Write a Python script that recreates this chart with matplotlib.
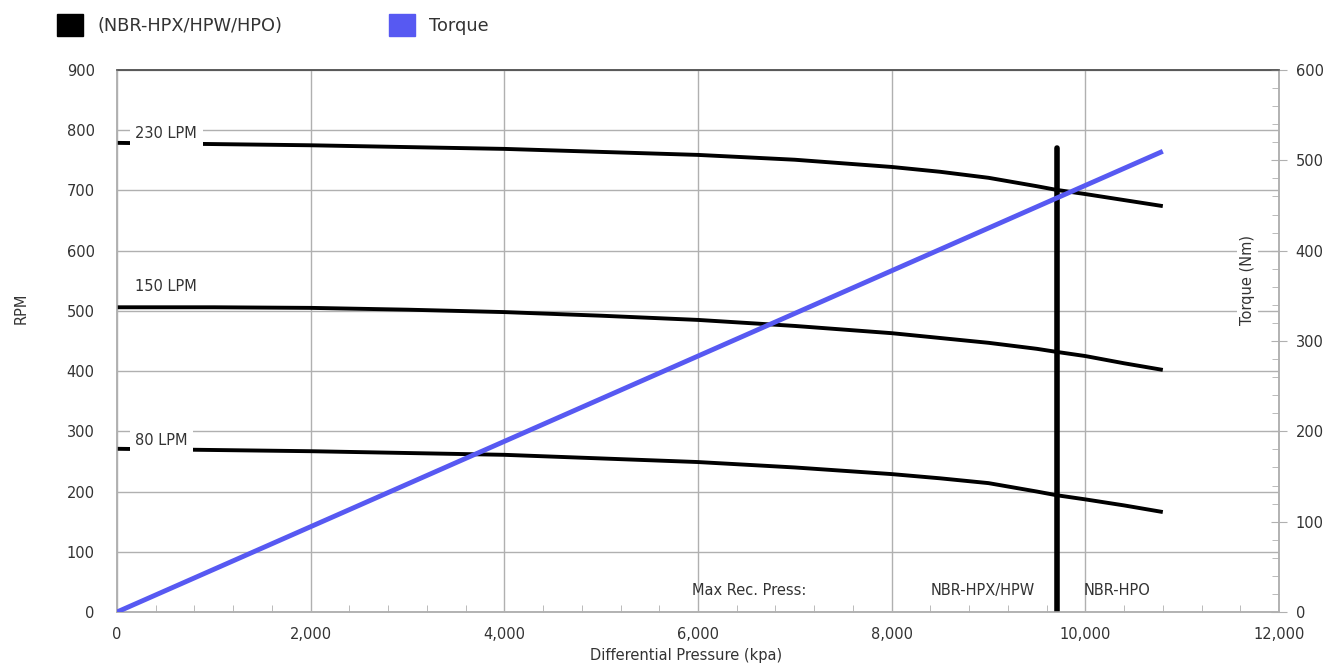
import matplotlib.pyplot as plt
from matplotlib.patches import Patch
from matplotlib.ticker import MultipleLocator, FuncFormatter

# pressure points (kpa) and rpm curves
pressure = [0, 1000, 2000, 3000, 4000, 5000, 6000, 7000, 8000, 8500, 9000, 9500, 9700, 10000, 10400, 10800]
rpm_230 = [779, 777, 775, 772, 769, 764, 759, 751, 739, 731, 721, 707, 701, 694, 684, 674]
rpm_150 = [506, 506, 505, 502, 498, 492, 485, 475, 463, 455, 447, 437, 432, 425, 413, 402]
rpm_80 = [271, 269, 267, 264, 261, 255, 249, 240, 229, 222, 214, 200, 194, 187, 177, 166]
curve_labels = ['230 LPM', '150 LPM', '80 LPM']
label_rpm = [795, 540, 284]

torque_pressure = [0, 10800]
torque_nm = [0, 510]

max_press = 9710
max_press_top = 770

blue = '#5759f2'
grid_c = '#b0b0b0'
text_c = '#333333'
fs = 10.5

plt.rcParams['font.family'] = 'DejaVu Sans'

fig = plt.figure(figsize=(13.28, 6.64), dpi=100)
ax = fig.add_axes([117/1328, 52/664, 1162/1328, 542/664])
ax2 = ax.twinx()

ax.set_xlim(0, 12000)
ax.set_ylim(0, 900)
ax2.set_ylim(0, 600)

ax.xaxis.set_major_locator(MultipleLocator(2000))
ax.xaxis.set_minor_locator(MultipleLocator(400))
ax.yaxis.set_major_locator(MultipleLocator(100))
ax2.yaxis.set_major_locator(MultipleLocator(100))
ax2.yaxis.set_minor_locator(MultipleLocator(20))
ax.xaxis.set_major_formatter(FuncFormatter(lambda v, p: f'{int(v):,}'))

ax.grid(True, which='major', color=grid_c, lw=1.0)
ax.set_axisbelow(True)

for a in [ax, ax2]:
    for sp in ['left', 'bottom', 'right']:
        a.spines[sp].set_color(grid_c)
    a.spines['top'].set_color('#555555')
    for sp in a.spines.values():
        sp.set_linewidth(1.1)

ax.tick_params(axis='y', length=0, labelsize=fs, labelcolor=text_c, pad=16)
ax.tick_params(axis='x', which='major', length=0, labelsize=fs, labelcolor=text_c, pad=11)
ax.tick_params(axis='x', which='minor', direction='in', length=5, color=grid_c)
ax2.tick_params(axis='y', which='major', direction='inout', length=12, color=grid_c,
                labelsize=fs, labelcolor=text_c, pad=6)
ax2.tick_params(axis='y', which='minor', direction='in', length=5, color=grid_c)

for rpm in [rpm_230, rpm_150, rpm_80]:
    ax.plot(pressure, rpm, color='black', lw=2.8, solid_capstyle='butt', zorder=3)

ax2.plot(torque_pressure, torque_nm, color=blue, lw=3.5, solid_capstyle='butt', zorder=4)

ax.plot([max_press, max_press], [0, max_press_top], color='black', lw=4,
        solid_capstyle='round', zorder=5)

for lab, y in zip(curve_labels, label_rpm):
    ax.text(190, y, lab, fontsize=fs, color=text_c, va='center', ha='left', zorder=6,
            bbox=dict(facecolor='white', edgecolor='none', pad=4))

ax.text(5940, 36, 'Max Rec. Press:', fontsize=fs, color=text_c, va='center', ha='left', zorder=6)
ax.text(9480, 36, 'NBR-HPX/HPW', fontsize=fs, color=text_c, va='center', ha='right', zorder=6)
ax.text(9980, 36, 'NBR-HPO', fontsize=fs, color=text_c, va='center', ha='left', zorder=6)

ax.set_xlabel('Differential Pressure (kpa)', fontsize=fs, color=text_c)
ax.xaxis.set_label_coords(0.49, -0.067)
ax.set_ylabel('RPM', fontsize=fs, color=text_c)
ax.yaxis.set_label_coords(-0.076, 0.56)

ax.text(0.973, 0.613, 'Torque (Nm)', transform=ax.transAxes, rotation=90, fontsize=fs,
        color=text_c, va='center', ha='center', zorder=6,
        bbox=dict(facecolor='white', edgecolor='none', pad=2))

handles = [Patch(facecolor='black', edgecolor='black', label='(NBR-HPX/HPW/HPO)'),
           Patch(facecolor=blue, edgecolor=blue, label='Torque')]
fig.legend(handles=handles, loc='upper left', bbox_to_anchor=(0.031, 1.003), ncol=2,
           frameon=False, fontsize=12.8, handlelength=1.45, handleheight=1.55,
           handletextpad=0.8, columnspacing=6.0, labelcolor=text_c)

fig.savefig('out.png', dpi=100)
